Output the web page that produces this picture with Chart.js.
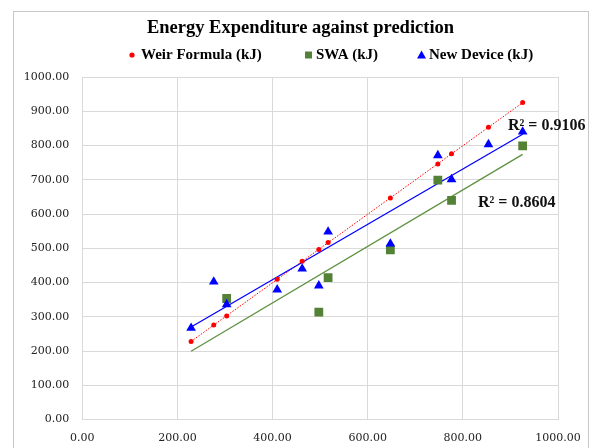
<!DOCTYPE html>
<html><head><meta charset="utf-8">
<script src="https://cdn.jsdelivr.net/npm/chart.js@4.4.1/dist/chart.umd.min.js"></script>
<style>html,body{margin:0;padding:0;background:#fff;}#wrap{width:593px;height:448px;}</style>
</head><body><div id="wrap"><canvas id="c" width="593" height="448"></canvas></div>
<script>
// ---- data ----
const chartTitle = 'Energy Expenditure against prediction';
const seriesNames = ['Weir Formula (kJ)', 'SWA (kJ)', 'New Device (kJ)'];
const weirX = [228.7, 276.3, 303.5, 409.7, 462.2, 497.2, 516.7, 647.6, 747.4, 776.2, 853.8, 925.7];
const weirY = [228.1, 275.9, 302.1, 409.8, 462.3, 496.0, 516.5, 646.7, 745.7, 775.7, 853.5, 925.4];
const swaX  = [303.5, 497.2, 516.7, 647.6, 747.4, 776.2, 925.7];
const swaY  = [353.3, 313.7, 414.5, 495.6, 699.0, 640.0, 799.0];
const devX  = [228.7, 276.3, 303.5, 409.7, 462.2, 497.2, 516.7, 647.6, 747.4, 776.2, 853.8, 925.7];
const devY  = [267.0, 402.0, 336.0, 379.0, 440.0, 391.0, 548.0, 513.0, 771.0, 701.0, 803.0, 840.0];
const r2Labels = ['R\u00B2 = 0.9106', 'R\u00B2 = 0.8604'];
const xTickRange = [0, 1000, 200];
const yTickRange = [0, 1000, 100];

const pts = (xs, ys) => xs.map((x, i) => ({x: x, y: ys[i]}));
function fit(xs, ys) {
  const n = xs.length;
  const mx = xs.reduce((a, b) => a + b, 0) / n, my = ys.reduce((a, b) => a + b, 0) / n;
  let sxy = 0, sxx = 0;
  for (let i = 0; i < n; i++) { sxy += (xs[i] - mx) * (ys[i] - my); sxx += (xs[i] - mx) ** 2; }
  const m = sxy / sxx, b = my - m * mx;
  return {m: m, b: b};
}
const xMin = Math.min(...weirX), xMax = Math.max(...weirX);
function trend(xs, ys) {
  const f = fit(xs, ys);
  return [{x: xMin, y: f.m * xMin + f.b}, {x: xMax, y: f.m * xMax + f.b}];
}

const RED = '#FF0000', GREEN = '#538135', BLUE = '#0000FF';
const SERIF = '"Liberation Serif", "DejaVu Serif", serif';
const TICKFONT = '"DejaVu Serif", serif';

const decor = {
  id: 'decor',
  beforeDraw(chart) {
    const ctx = chart.ctx;
    ctx.save();
    ctx.fillStyle = '#fff';
    ctx.fillRect(0, 0, chart.width, chart.height);
    ctx.strokeStyle = '#c8c8c8';
    ctx.lineWidth = 1;
    ctx.strokeRect(13.5, 11.5, 575, 460);
    ctx.restore();
  },
  afterDraw(chart) {
    const ctx = chart.ctx;
    ctx.save();
    ctx.fillStyle = '#000';
    ctx.textBaseline = 'middle';
    ctx.textAlign = 'center';
    ctx.font = 'bold 18.5px ' + SERIF;
    ctx.fillText(chartTitle, 300.5, 28);
    // legend
    ctx.textAlign = 'left';
    ctx.font = 'bold 15px ' + SERIF;
    const ly = 55;
    ctx.fillStyle = RED;
    ctx.beginPath(); ctx.arc(132, ly, 2.6, 0, Math.PI * 2); ctx.fill();
    ctx.fillStyle = '#000';
    ctx.fillText(seriesNames[0], 141, ly);
    ctx.fillStyle = GREEN;
    ctx.fillRect(305, ly - 3.5, 7, 7);
    ctx.fillStyle = '#000';
    ctx.fillText(seriesNames[1], 316, ly);
    ctx.fillStyle = BLUE;
    ctx.beginPath(); ctx.moveTo(421.5, ly - 4.5); ctx.lineTo(426, ly + 3.5); ctx.lineTo(417, ly + 3.5); ctx.closePath(); ctx.fill();
    ctx.fillStyle = '#000';
    ctx.fillText(seriesNames[2], 429, ly);
    // R² labels
    ctx.font = 'bold 16px ' + SERIF;
    ctx.fillStyle = '#111';
    ctx.fillText(r2Labels[0], 508, 126);
    ctx.fillText(r2Labels[1], 478, 203);
    ctx.restore();
  }
};

new Chart(document.getElementById('c'), {
  type: 'scatter',
  data: {
    datasets: [
      {label: seriesNames[2], data: pts(devX, devY), pointStyle: 'triangle', pointRadius: 5.6, backgroundColor: BLUE, borderColor: BLUE, borderWidth: 0, showLine: false},
      {label: seriesNames[1], data: pts(swaX, swaY), pointStyle: 'rect', pointRadius: 6.2, backgroundColor: GREEN, borderColor: GREEN, borderWidth: 0, showLine: false},
      {label: seriesNames[0], data: pts(weirX, weirY), pointStyle: 'circle', pointRadius: 2.5, backgroundColor: RED, borderColor: RED, borderWidth: 0, showLine: false},
      {label: 'dev trend', data: trend(devX, devY), showLine: true, pointRadius: 0, borderColor: BLUE, borderWidth: 1.3, fill: false},
      {label: 'swa trend', data: trend(swaX, swaY), showLine: true, pointRadius: 0, borderColor: '#5E9140', borderWidth: 1.3, fill: false},
      {label: 'weir trend', data: trend(weirX, weirY), showLine: true, pointRadius: 0, borderColor: RED, borderWidth: 1, borderDash: [1.5, 1.5], fill: false}
    ]
  },
  options: {
    responsive: false,
    animation: false,
    events: [],
    layout: {padding: {top: 77, right: 35, left: 0, bottom: 0}},
    plugins: {legend: {display: false}, title: {display: false}, tooltip: {enabled: false}},
    scales: {
      x: {
        type: 'linear', min: xTickRange[0], max: xTickRange[1],
        ticks: {stepSize: xTickRange[2], callback: v => v.toFixed(2), color: '#222', font: {family: TICKFONT, size: 11}, padding: 12, maxRotation: 0},
        grid: {color: '#d9d9d9', drawTicks: false},
        border: {color: '#d9d9d9'},
        afterFit: s => { s.height = 28.5; }
      },
      y: {
        type: 'linear', min: yTickRange[0], max: yTickRange[1],
        ticks: {stepSize: yTickRange[2], callback: v => v.toFixed(2), color: '#222', font: {family: TICKFONT, size: 11}, padding: 13},
        grid: {color: '#d9d9d9', drawTicks: false},
        border: {color: '#d9d9d9'},
        afterFit: s => { s.width = 82.3; }
      }
    }
  },
  plugins: [decor]
});
</script></body></html>
